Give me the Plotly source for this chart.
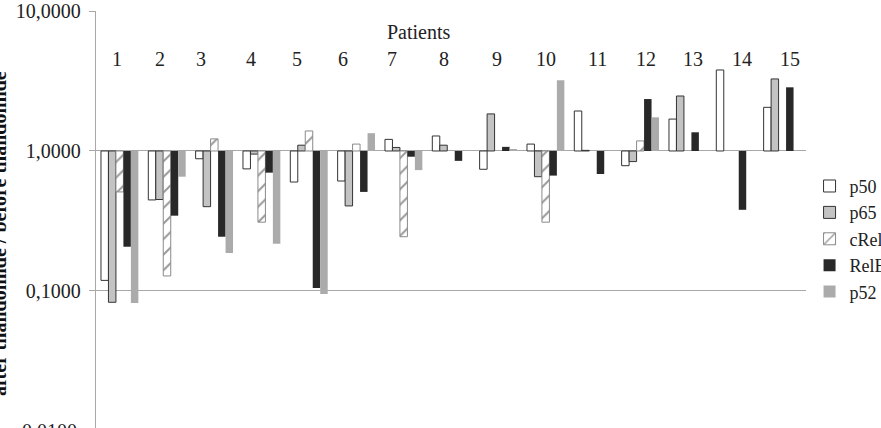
import plotly.graph_objects as go

patients = list(range(1, 16))
p50 = [0.119, 0.447, 0.88, 0.745, 0.60, 0.61, 1.21, 1.28, 0.74, 1.12, 1.93, 0.785, 1.69, 3.79, 2.05]
p65 = [0.083, 0.45, 0.40, 0.95, 1.10, 0.405, 1.06, 1.10, 1.84, 0.655, 1.01, 0.84, 2.47, None, 3.27]
cRel = [0.51, 0.128, 1.22, 0.31, 1.39, 1.12, 0.244, None, None, 0.31, None, 1.18, None, None, None]
RelB = [0.207, 0.345, 0.244, 0.70, 0.105, 0.51, 0.91, 0.85, 1.07, 0.667, 0.685, 2.35, 1.36, 0.38, 2.85]
p52 = [0.082, 0.655, 0.187, 0.217, 0.095, 1.34, 0.73, None, 1.03, 3.2, None, 1.74, None, None, None]

tick_vals = [0.1, 1, 10]
tick_text = ["0,1000", "1,0000", "10,0000"]
bottom_tick_text = "0,0100"
y_title = "after thalidomide / before thalidomide"
x_title = "Patients"

FONT = "Times New Roman, Liberation Serif, DejaVu Serif, serif"
FS = 20

series = [
    ("p50", p50, dict(color="white", line=dict(color="#333333", width=1))),
    ("p65", p65, dict(color="#c3c3c3", line=dict(color="#333333", width=1))),
    ("cRel", cRel, dict(color="white", line=dict(color="#8a8a8a", width=1),
                        pattern=dict(shape="/", fgcolor="#333333", bgcolor="white", size=11, solidity=0.18))),
    ("RelB", RelB, dict(color="#282828", line=dict(width=0))),
    ("p52", p52, dict(color="#ababab", line=dict(width=0))),
]

fig = go.Figure()
for name, vals, marker in series:
    fig.add_trace(go.Bar(
        x=patients,
        y=[(v - 1) if v is not None else None for v in vals],
        base=[1] * len(vals),
        name=name,
        marker=marker,
        customdata=vals,
        hovertemplate="%{customdata}<extra>" + name + "</extra>",
    ))

label_shift = [-3, -7, -13, -11, -12, -13, -12, -7, -1, 0, 4, 6, 5, 7, 8]
annotations = []
for p, s in zip(patients, label_shift):
    annotations.append(dict(x=p, y=0.885, xref="x", yref="paper", text=str(p), showarrow=False,
                            xshift=s, yanchor="middle", font=dict(family=FONT, size=FS, color="#222222")))
annotations.append(dict(x=0.455, y=0.9496, xref="paper", yref="paper", text=x_title, showarrow=False,
                        yanchor="middle", font=dict(family=FONT, size=FS, color="#222222")))
annotations.append(dict(x=0, y=-0.0072, xref="paper", yref="paper", text=bottom_tick_text, showarrow=False,
                        xanchor="right", yanchor="middle", xshift=-17,
                        font=dict(family=FONT, size=FS, color="#222222")))
annotations.append(dict(x=0, y=0.465, xref="paper", yref="paper", text="<b>" + y_title + "</b>", showarrow=False,
                        textangle=-90, xanchor="center", yanchor="middle", xshift=-97,
                        font=dict(family=FONT, size=FS, color="#111111")))

fig.update_layout(
    width=881, height=428,
    margin=dict(l=96, r=75, t=11, b=0, autoexpand=False),
    paper_bgcolor="white", plot_bgcolor="white",
    barmode="group", bargap=0.21, bargroupgap=0,
    showlegend=True,
    legend=dict(x=1.005, xanchor="left", y=0.624, yanchor="top",
                font=dict(family=FONT, size=18, color="#222222"),
                itemwidth=30, tracegroupgap=0, bgcolor="rgba(0,0,0,0)"),
    annotations=annotations,
    font=dict(family=FONT, size=FS, color="#222222"),
)
fig.update_xaxes(range=[0.5, 15.5], showticklabels=False, showgrid=False, zeroline=False,
                 showline=False, ticks="")
fig.update_yaxes(type="log", range=[-1.979, 1], tickvals=tick_vals, ticktext=tick_text,
                 showgrid=True, gridcolor="#a8a8a8", gridwidth=1.3,
                 showline=True, linecolor="#a8a8a8", linewidth=1.3,
                 ticks="outside", ticklen=6, tickcolor="#a8a8a8", tickwidth=1.3,
                 ticklabelstandoff=4,
                 tickfont=dict(family=FONT, size=FS, color="#222222"), zeroline=False)

fig.write_html("out.html")
